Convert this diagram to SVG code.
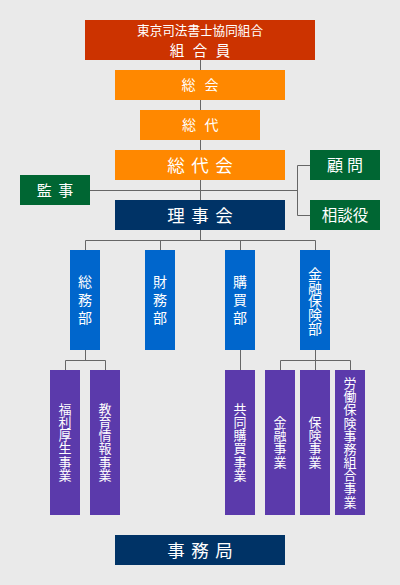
<svg xmlns="http://www.w3.org/2000/svg" width="400" height="585" viewBox="0 0 400 585">
<style>
text{font-family:"Noto Sans CJK JP","Noto Sans CJK SC",sans-serif;fill:#fff;text-anchor:middle}
.v{writing-mode:vertical-rl;text-orientation:upright}
.ln{stroke:#666;stroke-width:1;fill:none}
.red{fill:#CC3300}.org{fill:#FF8800}.grn{fill:#006633}.nvy{fill:#003366}.blu{fill:#0066CC}.pur{fill:#5B3AAB}
.f13{font-size:13px}.f14{font-size:14px}.f15{font-size:15px}.f16{font-size:16px}.f17{font-size:17.5px}
</style>
<rect width="400" height="585" fill="#EAEAEA"/>
<g id="connectors" class="ln">
<path d="M200.5 60V240"/>
<path d="M90 190.5H297.5"/>
<path d="M310 165.5H297.5V215.5H310"/>
<path d="M85.5 250V240.5H315.5V250M160.5 240.5V250M240.5 240.5V250"/>
<path d="M85.5 350V360.5M65.5 370V360.5H105.5V370"/>
<path d="M240.5 350V370"/>
<path d="M315.5 350V370M280.5 370V360.5H350.5V370"/>
</g>
<g id="kumiaiin"><rect class="red" x="85" y="20" width="230" height="40"/>
<text style="font-size:12.6px" x="200" y="35">東京司法書士協同組合</text>
<text style="font-size:14.5px"><tspan x="177" y="55.5">組</tspan><tspan x="200" y="55.5">合</tspan><tspan x="223" y="55.5">員</tspan></text></g>
<g id="sokai"><rect class="org" x="115" y="70" width="170" height="30"/>
<text class="f14"><tspan x="188.5" y="90.3">総</tspan><tspan x="211.5" y="90.3">会</tspan></text></g>
<g id="sodai"><rect class="org" x="140" y="110" width="120" height="30"/>
<text class="f14"><tspan x="189" y="130.3">総</tspan><tspan x="211.5" y="130.3">代</tspan></text></g>
<g id="sodaikai"><rect class="org" x="115" y="150" width="170" height="30"/>
<text class="f17"><tspan x="176" y="171.5">総</tspan><tspan x="200" y="171.5">代</tspan><tspan x="224" y="171.5">会</tspan></text></g>
<g id="kanji"><rect class="grn" x="20" y="175" width="70" height="30"/>
<text class="f15"><tspan x="44.2" y="195.7">監</tspan><tspan x="65.8" y="195.7">事</tspan></text></g>
<g id="komon"><rect class="grn" x="310" y="150" width="70" height="30"/>
<text class="f16"><tspan x="335" y="171">顧</tspan><tspan x="355" y="171">問</tspan></text></g>
<g id="sodanyaku"><rect class="grn" x="310" y="200" width="70" height="30"/>
<text style="font-size:15.5px" x="345" y="220.8">相談役</text></g>
<g id="rijikai"><rect class="nvy" x="115" y="200" width="170" height="30"/>
<text class="f17"><tspan x="176" y="221.6">理</tspan><tspan x="200" y="221.6">事</tspan><tspan x="224" y="221.6">会</tspan></text></g>
<g id="somubu"><rect class="blu" x="70" y="250" width="30" height="100"/>
<text class="v f14" style="letter-spacing:4.3px" x="85" y="302">総務部</text></g>
<g id="zaimubu"><rect class="blu" x="145" y="250" width="30" height="100"/>
<text class="v f14" style="letter-spacing:4.3px" x="160" y="302">財務部</text></g>
<g id="kobaibu"><rect class="blu" x="225" y="250" width="30" height="100"/>
<text class="v f14" style="letter-spacing:4.3px" x="240" y="302">購買部</text></g>
<g id="kinyuhokenbu"><rect class="blu" x="300" y="250" width="30" height="100"/>
<text class="v f14" style="letter-spacing:-0.25px" x="315" y="301">金融保険部</text></g>
<g id="fukuri"><rect class="pur" x="50" y="370" width="30" height="145"/>
<text class="v f13" style="letter-spacing:0.3px" x="65" y="442">福利厚生事業</text></g>
<g id="kyoiku"><rect class="pur" x="90" y="370" width="30" height="145"/>
<text class="v f13" style="letter-spacing:0.3px" x="105" y="442">教育情報事業</text></g>
<g id="kyodokobai"><rect class="pur" x="225" y="370" width="30" height="145"/>
<text class="v f13" style="letter-spacing:0.3px" x="240" y="442">共同購買事業</text></g>
<g id="kinyu"><rect class="pur" x="265" y="370" width="30" height="145"/>
<text class="v f13" style="letter-spacing:0.3px" x="280" y="442">金融事業</text></g>
<g id="hoken"><rect class="pur" x="300" y="370" width="30" height="145"/>
<text class="v f13" style="letter-spacing:0.3px" x="315" y="442">保険事業</text></g>
<g id="rodohoken"><rect class="pur" x="335" y="370" width="30" height="145"/>
<text class="v f13" style="letter-spacing:0.15px" x="350" y="442.5">労働保険事務組合事業</text></g>
<g id="jimukyoku"><rect class="nvy" x="115" y="535" width="170" height="30"/>
<text class="f17"><tspan x="176" y="556.6">事</tspan><tspan x="200" y="556.6">務</tspan><tspan x="224" y="556.6">局</tspan></text></g>
</svg>
